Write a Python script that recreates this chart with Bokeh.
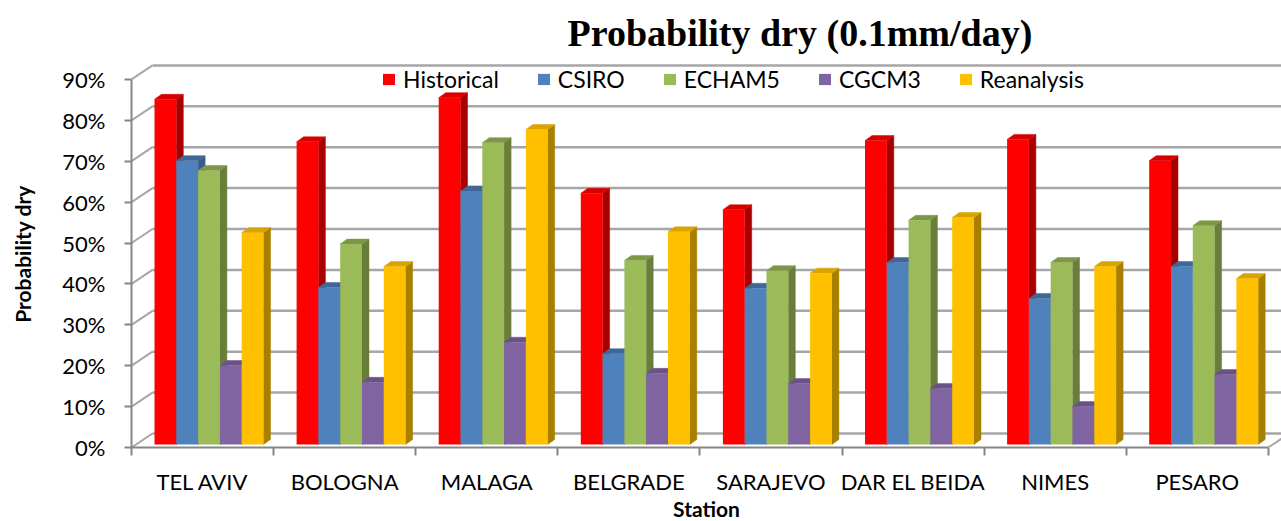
import numpy as np
from bokeh.plotting import figure
from bokeh.models import (Range1d, FixedTicker, PrintfTickFormatter, Legend,
                          LegendItem, ColumnDataSource)
from bokeh.embed import file_html
from bokeh.resources import INLINE

# ---------------- data ----------------
stations = ["TEL AVIV", "BOLOGNA", "MALAGA", "BELGRADE", "SARAJEVO",
            "DAR EL BEIDA", "NIMES", "PESARO"]
historical = [84.4, 74.0, 84.8, 61.4, 57.4, 74.3, 74.6, 69.4]
csiro      = [69.4, 38.4, 62.0, 22.2, 38.2, 44.5, 35.7, 43.5]
echam5     = [67.0, 49.0, 73.8, 45.0, 42.5, 54.8, 44.5, 53.5]
cgcm3      = [19.3, 15.2, 25.0, 17.4, 14.9, 13.7,  9.3, 17.1]
reanalysis = [51.8, 43.5, 77.0, 52.0, 41.9, 55.5, 43.5, 40.6]
series_names = ["Historical", "CSIRO", "ECHAM5", "CGCM3", "Reanalysis"]
series_values = [historical, csiro, echam5, cgcm3, reanalysis]
y_ticks = [0, 10, 20, 30, 40, 50, 60, 70, 80, 90]

# ---------------- style ----------------
front_cols = ["#FF0000", "#4F81BD", "#9BBB59", "#8064A2", "#FFC000"]
side_cols  = ["#A80000", "#385D8A", "#687E3A", "#5C4878", "#A88000"]
top_cols   = ["#D60000", "#3F6899", "#7D9747", "#6A5288", "#D9A300"]

FW, FH = 1150, 387
PX_CAT, PX_PCT = 142.1, 4.09
X_END, Y_END = FW / PX_CAT, FH / PX_PCT
ux, uy = X_END / FW, Y_END / FH      # data units per pixel

BAR_OFF, BAR_W = 23.0, 21.8          # px
DEP_X, DEP_Y = 7.0, 5.0              # bar depth (px)
LIFT = 3.0                           # bars sit slightly behind front plane
WALL_X, WALL_Y = 21.0, 14.0          # back wall offset (px)

p = figure(frame_width=FW, frame_height=FH,
           x_range=Range1d(0, X_END), y_range=Range1d(0, Y_END),
           output_backend="svg", toolbar_location=None,
           min_border_left=131, min_border_right=0,
           min_border_top=60, min_border_bottom=74)
p.outline_line_color = None
p.xgrid.visible = False
p.ygrid.visible = False
p.background_fill_color = "white"

p.title.text = "Probability dry (0.1mm/day)"
p.title.align = "left"
p.title.offset = 436
p.title.standoff = 13
p.title.text_font = "Liberation Serif"
p.title.text_font_style = "bold"
p.title.text_font_size = "38px"
p.title.text_color = "#000000"

# back wall grid lines and connectors
gy = np.array(y_ticks, dtype=float)
p.segment(x0=np.full_like(gy, WALL_X * ux), y0=gy + WALL_Y * uy,
          x1=np.full_like(gy, X_END + 1), y1=gy + WALL_Y * uy,
          line_color="#A6A6A6", line_width=2.5)
p.segment(x0=np.zeros_like(gy), y0=gy,
          x1=np.full_like(gy, WALL_X * ux), y1=gy + WALL_Y * uy,
          line_color="#A6A6A6", line_width=2)
ncat = len(stations)
p.segment(x0=[ncat], y0=[0], x1=[ncat + WALL_X * ux], y1=[WALL_Y * uy],
          line_color="#A6A6A6", line_width=2)

# bars
items = []
for k, (name, vals) in enumerate(zip(series_names, series_values)):
    v = np.array(vals, dtype=float)
    idx = np.arange(ncat, dtype=float)
    left = idx + (BAR_OFF + k * BAR_W) * ux
    right = left + BAR_W * ux
    bottom = np.full(ncat, LIFT * uy)
    top = v + LIFT * uy
    dx, dy = DEP_X * ux, DEP_Y * uy
    side_xs = [[r, r + dx, r + dx, r] for r in right]
    side_ys = [[b, b + dy, t + dy, t] for b, t in zip(bottom, top)]
    top_xs = [[l, r, r + dx, l + dx] for l, r in zip(left, right)]
    top_ys = [[t, t, t + dy, t + dy] for t in top]
    p.patches(xs=side_xs, ys=side_ys, fill_color=side_cols[k],
              line_color=side_cols[k], line_width=0.5)
    p.patches(xs=top_xs, ys=top_ys, fill_color=top_cols[k],
              line_color=top_cols[k], line_width=0.5)
    src = ColumnDataSource(dict(left=left, right=right, bottom=bottom, top=top))
    r = p.quad(left="left", right="right", bottom="bottom", top="top",
               source=src, fill_color=front_cols[k], line_color=None)
    items.append(LegendItem(label=name, renderers=[r]))

legend = Legend(items=items, orientation="horizontal", location=(250, 354),
                glyph_width=15, glyph_height=14, label_standoff=7, spacing=37,
                padding=0, margin=0, border_line_color=None,
                background_fill_alpha=0, label_text_font="Lato",
                label_text_font_size="23px", label_text_color="#000000")
p.add_layout(legend)

# axes
xa = p.xaxis[0]
xa.ticker = FixedTicker(ticks=[i + 0.5 for i in range(ncat)],
                        minor_ticks=list(range(ncat + 1)))
xa.major_label_overrides = {i + 0.5: s for i, s in enumerate(stations)}
xa.bounds = (0, ncat)
xa.axis_line_color = "#868686"
xa.axis_line_width = 2
xa.major_tick_line_color = None
xa.major_tick_out = 0
xa.major_tick_in = 0
xa.minor_tick_line_color = "#868686"
xa.minor_tick_line_width = 2
xa.minor_tick_out = 8
xa.minor_tick_in = 0
xa.major_label_text_font = "Lato"
xa.major_label_text_font_size = "22px"
xa.major_label_text_color = "#000000"
xa.major_label_standoff = 12
xa.axis_label = "Station"
xa.axis_label_text_font = "Lato"
xa.axis_label_text_font_style = "bold"
xa.axis_label_text_font_size = "21px"
xa.axis_label_text_color = "#000000"
xa.axis_label_standoff = -2

ya = p.yaxis[0]
ya.ticker = FixedTicker(ticks=y_ticks, minor_ticks=[])
ya.formatter = PrintfTickFormatter(format="%d%%")
ya.bounds = (0, 90)
ya.axis_line_color = "#868686"
ya.axis_line_width = 2
ya.major_tick_line_color = "#868686"
ya.major_tick_line_width = 2
ya.major_tick_out = 7
ya.major_tick_in = 0
ya.minor_tick_line_color = None
ya.major_label_text_font = "Lato"
ya.major_label_text_font_size = "22px"
ya.major_label_text_color = "#000000"
ya.major_label_standoff = 19
ya.axis_label = "Probability dry"
ya.axis_label_text_font = "Lato"
ya.axis_label_text_font_style = "bold"
ya.axis_label_text_font_size = "21px"
ya.axis_label_text_color = "#000000"
ya.axis_label_standoff = 24

open("out.html", "w").write(file_html(p, INLINE))
